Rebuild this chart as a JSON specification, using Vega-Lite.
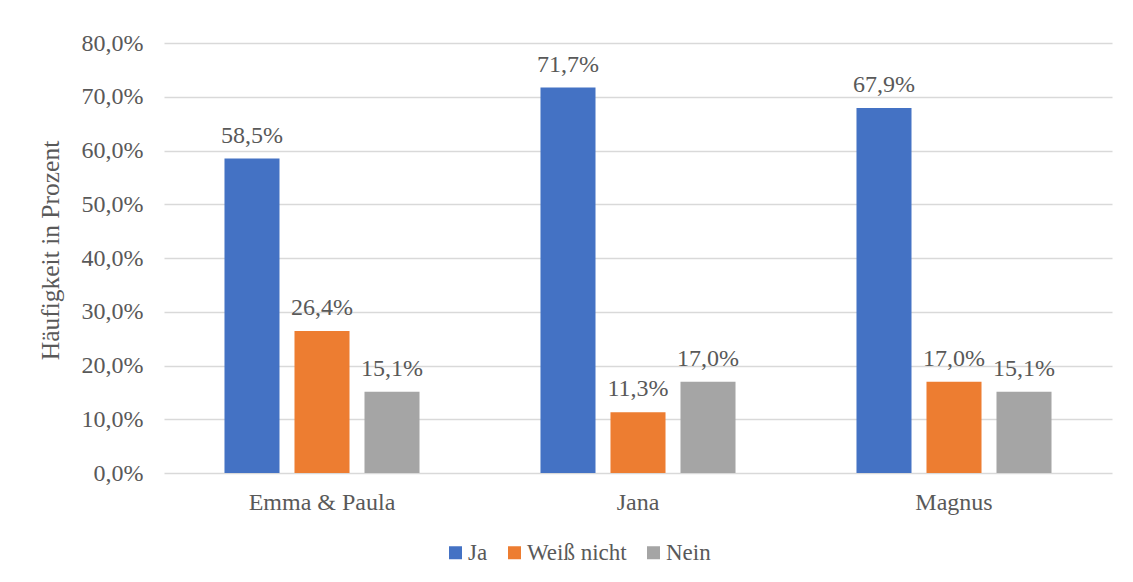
{
  "$schema": "https://vega.github.io/schema/vega-lite/v6.json",
  "autosize": {"type": "none"},
  "width": 948,
  "height": 430,
  "padding": {"left": 164, "top": 43, "right": 21, "bottom": 109},
  "background": "white",
  "config": {
    "locale": {"number": {"decimal": ",", "thousands": ".", "grouping": [3], "currency": ["", " €"]}},
    "font": "Liberation Serif",
    "view": {"stroke": null},
    "axis": {"labelFont": "Liberation Serif", "titleFont": "Liberation Serif", "labelColor": "#595959", "titleColor": "#595959", "labelFontSize": 24, "titleFontSize": 25.5, "titleFontWeight": "normal"},
    "legend": {"labelFont": "Liberation Serif", "labelColor": "#595959", "labelFontSize": 23}
  },
  "data": {"values": [
    {"person": "Emma & Paula", "antwort": "Ja", "wert": 0.585},
    {"person": "Emma & Paula", "antwort": "Weiß nicht", "wert": 0.264},
    {"person": "Emma & Paula", "antwort": "Nein", "wert": 0.151},
    {"person": "Jana", "antwort": "Ja", "wert": 0.717},
    {"person": "Jana", "antwort": "Weiß nicht", "wert": 0.113},
    {"person": "Jana", "antwort": "Nein", "wert": 0.170},
    {"person": "Magnus", "antwort": "Ja", "wert": 0.679},
    {"person": "Magnus", "antwort": "Weiß nicht", "wert": 0.170},
    {"person": "Magnus", "antwort": "Nein", "wert": 0.151}
  ]},
  "encoding": {
    "x": {"field": "person", "type": "nominal", "sort": ["Emma & Paula", "Jana", "Magnus"],
      "scale": {"paddingInner": 0, "paddingOuter": 0},
      "axis": {"title": null, "labelAngle": 0, "domain": false, "ticks": false, "labelPadding": 17}},
    "xOffset": {"field": "antwort", "type": "nominal", "sort": ["Ja", "Weiß nicht", "Nein"],
      "scale": {"paddingInner": 0.214, "paddingOuter": 0.864}},
    "y": {"field": "wert", "type": "quantitative",
      "scale": {"domain": [0, 0.8]},
      "axis": {"title": "Häufigkeit in Prozent", "format": ".1%", "values": [0, 0.1, 0.2, 0.3, 0.4, 0.5, 0.6, 0.7, 0.8],
        "domain": false, "ticks": false, "labelPadding": 21, "gridColor": "#d9d9d9", "gridWidth": 1.3, "titlePadding": 18, "titleY": 207}}
  },
  "layer": [
    {"mark": {"type": "bar"},
      "encoding": {"color": {"field": "antwort", "type": "nominal", "sort": ["Ja", "Weiß nicht", "Nein"],
        "scale": {"domain": ["Ja", "Weiß nicht", "Nein"], "range": ["#4472C4", "#ED7D31", "#A5A5A5"]},
        "legend": {"title": null, "orient": "none", "direction": "horizontal", "legendX": 280, "legendY": 498, "padding": 0,
          "symbolType": "square", "symbolSize": 169, "symbolStrokeWidth": 0, "labelOffset": 1, "columnPadding": 15}}}},
    {"mark": {"type": "text", "baseline": "alphabetic", "dy": -16, "fontSize": 24, "color": "#595959", "font": "Liberation Serif"},
      "encoding": {"text": {"field": "wert", "type": "quantitative", "format": ".1%"}}}
  ]
}
